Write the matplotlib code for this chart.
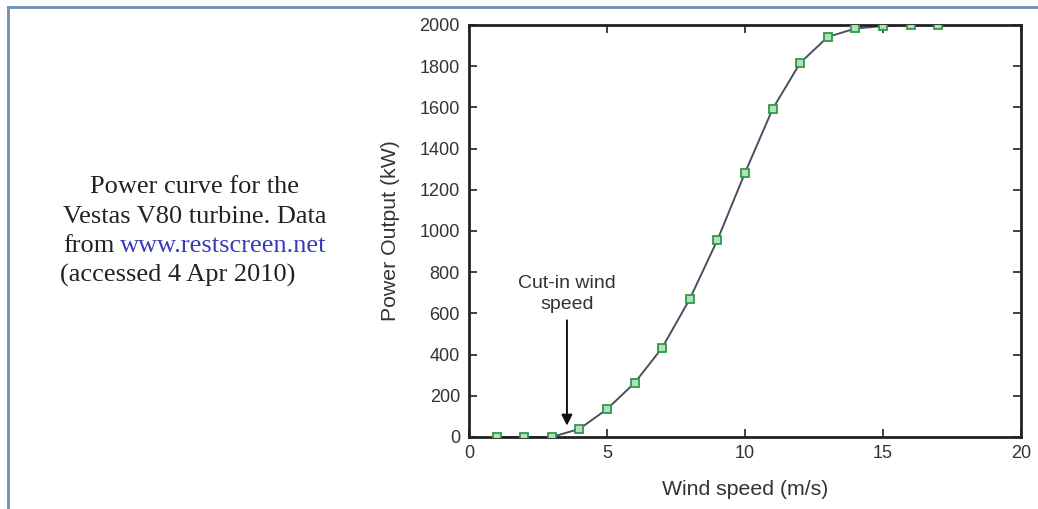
import matplotlib
matplotlib.use("Agg")
import matplotlib.pyplot as plt
from matplotlib.lines import Line2D

# Vestas V80 power curve
wind_speed = [1, 2, 3, 4, 5, 6, 7, 8, 9, 10, 11, 12, 13, 14, 15, 16, 17]
power_kw = [0, 0, 0, 39, 135, 262, 433, 670, 956, 1282, 1592, 1816, 1942, 1983, 1995, 2000, 2000]

x_ticks = [0, 5, 10, 15, 20]
y_ticks = [0, 200, 400, 600, 800, 1000, 1200, 1400, 1600, 1800, 2000]

cut_in_speed = 3.55

caption_lines = ["Power curve for the", "Vestas V80 turbine. Data", "(accessed 4 Apr 2010)"]
caption_link = "www.restscreen.net"

plt.rcParams['font.family'] = ['Liberation Sans', 'DejaVu Sans']

fig = plt.figure(figsize=(10.38, 5.09), dpi=100)
ax = fig.add_axes([0.4518, 0.1415, 0.5318, 0.8094])

ax.plot(wind_speed, power_kw, color='#4a4f62', lw=1.4, zorder=2)
ax.plot(wind_speed, power_kw, ls='none', marker='s', ms=5.5,
        mfc='#b4dfbc', mec='#2f9a4a', mew=1.3, zorder=3)

ax.set_xlim(0, 20)
ax.set_ylim(0, 2000)
ax.set_xticks(x_ticks)
ax.set_yticks(y_ticks)
ax.tick_params(axis='both', direction='in', length=6, width=1.2, top=True, right=True,
               labelsize=13, labelcolor='#333333', color='#222222')
ax.tick_params(axis='y', pad=6.5)
ax.tick_params(axis='x', pad=6)
for s in ax.spines.values():
    s.set_linewidth(2)
    s.set_color('#222222')

ax.set_xlabel('Wind speed (m/s)', fontsize=15.3, color='#333333', labelpad=13)
ax.set_ylabel('Power Output (kW)', fontsize=15.3, color='#333333', labelpad=14)

ax.annotate('Cut-in wind\nspeed', xy=(cut_in_speed, 55), xytext=(cut_in_speed, 600),
            ha='center', va='bottom', fontsize=14, color='#333333', linespacing=1.35,
            arrowprops=dict(arrowstyle='-|>', color='#111111', lw=1.4,
                            mutation_scale=16, shrinkA=3, shrinkB=0))

# caption on the left
serif = ['Liberation Serif', 'DejaVu Serif']
fs = 19
fig.text(90 / 1038, 1 - 187 / 509, caption_lines[0], family=serif, fontsize=fs,
         color='#222222', va='center', ha='left')
fig.text(63 / 1038, 1 - 217 / 509, caption_lines[1], family=serif, fontsize=fs,
         color='#222222', va='center', ha='left')
fig.text(63 / 1038, 1 - 246 / 509, "from", family=serif, fontsize=fs,
         color='#222222', va='center', ha='left')
fig.text(120 / 1038, 1 - 246 / 509, caption_link, family=serif, fontsize=fs,
         color='#3b3bb8', va='center', ha='left')
fig.text(60 / 1038, 1 - 275 / 509, caption_lines[2], family=serif, fontsize=fs,
         color='#222222', va='center', ha='left')

# page frame
frame_col = '#6f8db5'
fig.add_artist(Line2D([8 / 1038, 1], [1 - 7 / 509, 1 - 7 / 509], color=frame_col,
                      lw=2, transform=fig.transFigure))
fig.add_artist(Line2D([8 / 1038, 8 / 1038], [0, 1 - 7 / 509], color=frame_col,
                      lw=2, transform=fig.transFigure))

fig.savefig('out.png', dpi=100)
